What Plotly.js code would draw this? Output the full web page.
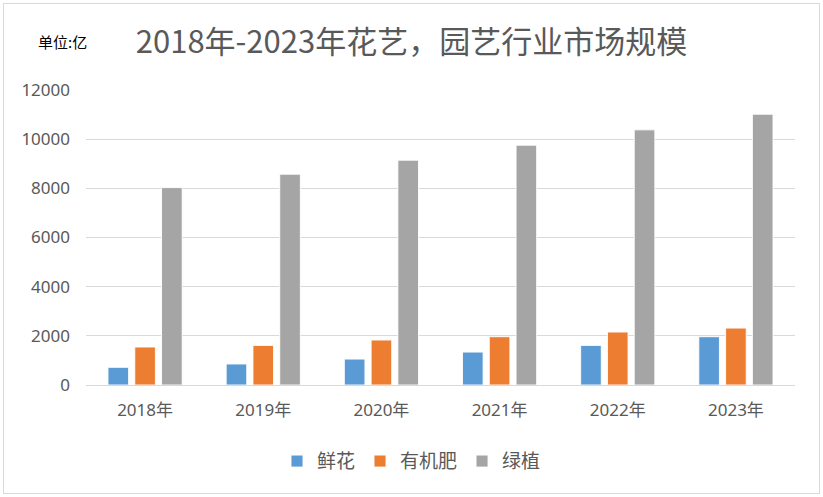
<!DOCTYPE html>
<html>
<head>
<meta charset="utf-8">
<script src="https://cdn.plot.ly/plotly-3.0.1.min.js"></script>
<style>
html,body{margin:0;padding:0;background:#fff;}
#wrap{position:relative;width:823px;height:497px;}
#chart{width:823px;height:497px;}
#frame{position:absolute;left:3px;top:3px;width:815px;height:489px;border:1px solid #D9D9D9;pointer-events:none;}
</style>
</head>
<body>
<div id="wrap"><div id="chart"></div><div id="frame"></div></div>
<script>
const categories = ['2018年','2019年','2020年','2021年','2022年','2023年'];
const seriesNames = ['鲜花','有机肥','绿植'];
const flowers = [720, 855, 1055, 1340, 1610, 1965];
const fertilizer = [1545, 1610, 1830, 1965, 2155, 2315];
const greenPlants = [8030, 8575, 9145, 9755, 10380, 11015];
const yTicks = [0, 2000, 4000, 6000, 8000, 10000, 12000];
const colors = ['#5B9BD5', '#ED7D31', '#A5A5A5'];

const font = '"Noto Sans", "Noto Sans CJK SC", sans-serif';
const values = [flowers, fertilizer, greenPlants];
const data = values.map((v, i) => ({
  type: 'bar',
  name: seriesNames[i],
  x: categories,
  y: v,
  marker: {color: colors[i], line: {color: 'rgba(255,255,255,0.9)', width: 1}},
  hoverinfo: 'x+y+name'
}));

const layout = {
  width: 823, height: 497,
  paper_bgcolor: '#fff', plot_bgcolor: '#fff',
  margin: {l: 86, r: 28, t: 90, b: 112},
  barmode: 'group', bargap: 0.32, bargroupgap: 0.23,
  font: {family: font, color: '#595959', size: 14},
  title: {text: '2018年-2023年花艺，园艺行业市场规模', x: 0.5, xref: 'container', xanchor: 'center', y: 0.915, yref: 'container', yanchor: 'middle',
    font: {family: '"Noto Sans CJK SC", sans-serif', size: 31, color: '#595959'}},
  xaxis: {type: 'category', tickfont: {size: 17, color: '#595959', family: font},
    showline: true, linecolor: '#D9D9D9', linewidth: 1, ticks: '', showgrid: false, zeroline: false, ticklabelstandoff: 10},
  yaxis: {range: [0, 12000], tickvals: yTicks, ticktext: yTicks.map(String), tickfont: {size: 17, color: '#595959', family: font},
    showgrid: true, gridcolor: '#D9D9D9', gridwidth: 1, zeroline: false, showline: false, ticks: '', ticklabelstandoff: 15},
  showlegend: true,
  legend: {orientation: 'h', x: 0.5, xanchor: 'center', xref: 'container', y: 0.072, yref: 'container', yanchor: 'middle',
    font: {size: 19, color: '#595959', family: '"Noto Sans CJK SC", sans-serif'}, itemwidth: 30, traceorder: 'normal'},
  annotations: [{text: '单位:亿', xref: 'paper', yref: 'paper', x: (36 - 86) / 709, y: (385 - 42) / 295, xanchor: 'left', yanchor: 'middle',
    showarrow: false, font: {size: 15, color: '#000000', family: '"Noto Sans CJK SC", sans-serif'}}]
};

Plotly.newPlot('chart', data, layout, {displayModeBar: false, staticPlot: true});
</script>
</body>
</html>
